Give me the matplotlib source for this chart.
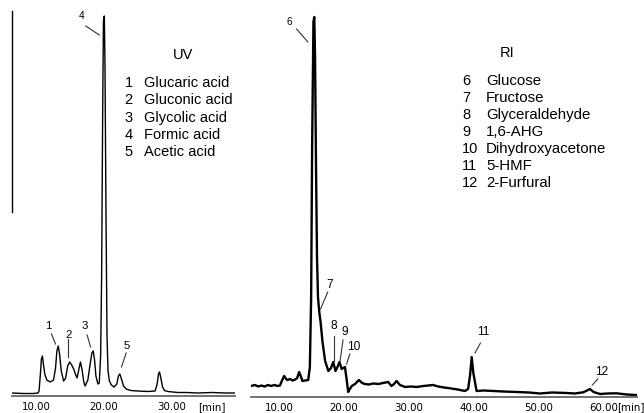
import matplotlib
matplotlib.use("Agg")
import matplotlib.pyplot as plt

# UV trace: retention time (min) and signal height
uv_time = [6.3, 8.0, 9.5, 10.2, 10.35, 10.55, 10.7, 10.85, 11.0, 11.2, 11.5, 12.0,
           12.5, 12.8, 13.0, 13.2, 13.4, 13.65, 14.0, 14.3, 14.6, 14.9, 15.2, 15.5,
           15.8, 16.0, 16.25, 16.5, 16.75, 17.0, 17.2, 17.6, 17.9, 18.2, 18.4, 18.6,
           18.8, 19.1, 19.3, 19.5, 19.65, 19.8, 19.92, 20.05, 20.15, 20.3, 20.45, 20.6,
           20.8, 21.1, 21.5, 21.9, 22.15, 22.35, 22.6, 22.9, 23.3, 24.0, 25.0, 26.5,
           27.6, 27.9, 28.1, 28.25, 28.45, 28.7, 29.0, 29.5, 31.0, 32.3, 34.0, 36.0,
           38.0, 39.5]
uv_signal = [3, 2.5, 2.5, 3, 5, 22, 37, 40, 32, 22, 16, 14,
             16, 28, 45, 50, 42, 25, 15, 18, 30, 34, 31, 27,
             21, 18, 26, 34, 26, 14, 10, 16, 30, 43, 45, 36,
             20, 12, 13, 40, 120, 280, 375, 380, 330, 180, 60, 25,
             15, 11, 9, 12, 20, 22, 17, 10, 7, 5.5, 5, 4.5,
             5, 12, 22, 24, 18, 9, 5.5, 4.5, 3.5, 3.5, 3, 3.5,
             3, 3]

# RI trace: retention time (min) and signal height
ri_time = [5.7, 6.3, 6.8, 7.3, 7.8, 8.3, 8.8, 9.3, 9.8, 10.15, 10.5, 10.8, 11.1, 11.3,
           11.7, 12.1, 12.5, 12.8, 13.1, 13.4, 13.6, 14.0, 14.5, 14.75, 14.95, 15.1,
           15.3, 15.43, 15.55, 15.7, 15.85, 16.0, 16.2, 16.4, 16.7, 17.1, 17.6, 18.0,
           18.35, 18.7, 19.0, 19.3, 19.65, 19.9, 20.15, 20.4, 20.65, 20.9, 21.2, 21.7,
           22.3, 22.8, 23.2, 23.8, 24.5, 25.3, 26.0, 26.8, 27.3, 27.7, 28.1, 28.6,
           29.4, 30.3, 31.2, 32.2, 33.0, 33.7, 34.5, 35.4, 36.3, 37.5, 38.6, 39.1,
           39.4, 39.65, 39.9, 40.4, 41.5, 43.0, 44.5, 46.6, 48.5, 50.15, 52.0, 54.25,
           55.5, 56.8, 57.4, 57.85, 58.4, 59.4, 60.5, 61.95, 63.5, 65.0]
ri_signal = [11, 12, 10.5, 11.5, 10.5, 12, 11, 12, 11, 11.5, 17, 21, 18, 17,
             18, 16.5, 17.5, 19, 25, 20, 16, 16.5, 17, 30, 100, 250,
             375, 380, 340, 230, 140, 100, 85, 75, 55, 36, 26, 29,
             35, 26, 30, 35, 28, 29, 30, 18, 5, 8, 11, 13,
             17, 14, 13, 12.5, 13.5, 13, 14, 15, 11, 13, 16, 12,
             10, 10.5, 10, 11, 11.5, 12, 10.5, 9.5, 8.7, 7.5, 6, 8,
             22, 40, 24, 6, 6.5, 6, 5.5, 5, 4.5, 3.5, 4.5, 4,
             3.5, 4.7, 6.5, 8, 5, 3, 3.5, 3.7, 2.5, 2]

uv_ticks = [10, 20, 30]
ri_ticks = [10, 20, 30, 40, 50, 60]

# peak labels: number, text position, leader start, leader end
uv_peaks = [("1", (11.72, 71), (12.2, 62), (12.8, 52)),
            ("2", (14.7, 62), (14.7, 57), (14.7, 39)),
            ("3", (17.18, 71), (17.5, 61), (18.0, 49)),
            ("4", (16.7, 381), (17.3, 370), (19.3, 361)),
            ("5", (23.4, 51), (23.3, 43), (22.6, 29))]
ri_peaks = [("6", (11.55, 376), (12.7, 368), (14.45, 355)),
            ("7", (17.85, 113), (17.5, 105), (16.4, 88)),
            ("8", (18.4, 72), (18.4, 61), (18.4, 36)),
            ("9", (20.1, 66), (19.85, 57), (19.4, 36)),
            ("10", (21.45, 51), (20.9, 43), (20.4, 33)),
            ("11", (41.4, 66), (41.0, 54), (40.15, 44)),
            ("12", (59.65, 26), (59.05, 18), (58.2, 12))]

uv_names = ["Glucaric acid", "Gluconic acid", "Glycolic acid", "Formic acid", "Acetic acid"]
ri_names = ["Glucose", "Fructose", "Glyceraldehyde", "1,6-AHG", "Dihydroxyacetone",
            "5-HMF", "2-Furfural"]

W, H = 644, 414
fig = plt.figure(figsize=(W / 100, H / 100), dpi=100)


def px(x, y):
    return x / W, 1 - y / H


ax_uv = fig.add_axes([12 / W, 17 / H, 223 / W, 385 / H])
ax_ri = fig.add_axes([250.7 / W, 16 / H, 386.3 / W, 386 / H])

ax_uv.plot(uv_time, uv_signal, color="black", lw=1.0)
ax_ri.plot(ri_time, ri_signal, color="black", lw=1.7)

ax_uv.set_xlim(6.33, 39.47)
ax_uv.set_ylim(0, 385)
ax_ri.set_xlim(5.65, 65.08)
ax_ri.set_ylim(0, 386)

for ax, ticks in [(ax_uv, uv_ticks), (ax_ri, ri_ticks)]:
    for s in ["top", "right"]:
        ax.spines[s].set_visible(False)
    ax.spines["bottom"].set_color("#666666")
    ax.spines["bottom"].set_linewidth(1.3)
    ax.set_xticks(ticks)
    ax.set_xticklabels(["%.2f" % t for t in ticks])
    ax.tick_params(axis="x", length=0, pad=3.5, labelsize=7.4)
    ax.set_yticks([])
    ax.patch.set_alpha(0)

ax_uv.spines["left"].set_bounds(184, 385)
ax_uv.spines["left"].set_linewidth(1.0)
ax_ri.spines["left"].set_visible(False)

for ax, peaks, fs in [(ax_uv, uv_peaks, 8.2), (ax_ri, ri_peaks, 8.6)]:
    for num, pos, p0, p1 in peaks:
        size = 7.2 if num in ("4", "6") else fs
        ax.text(pos[0], pos[1], num, ha="center", va="center", fontsize=size,
                family="Liberation Sans")
        ax.plot([p0[0], p1[0]], [p0[1], p1[1]], color="#333333", lw=0.8)

fig.text(*px(211.7, 407), "[min]", ha="center", va="center", fontsize=7.4)
fig.text(*px(631, 407), "[min]", ha="center", va="center", fontsize=7.4)

legend_font = dict(family="Liberation Sans", fontsize=10.5, va="baseline")
fig.text(*px(182.7, 59.3), "UV", ha="center", **legend_font)
for i, name in enumerate(uv_names):
    y = 87.3 + i * 17.2
    fig.text(*px(124.5, y), str(i + 1), ha="left", **legend_font)
    fig.text(*px(144, y), name, ha="left", **legend_font)

fig.text(*px(506.7, 57.3), "RI", ha="center", **legend_font)
for i, name in enumerate(ri_names):
    y = 85 + i * 16.95
    fig.text(*px(462, y), str(i + 6), ha="left", **legend_font)
    fig.text(*px(486, y), name, ha="left", family="Liberation Sans",
             fontsize=10.8, va="baseline")

fig.savefig("out.png", dpi=100)
